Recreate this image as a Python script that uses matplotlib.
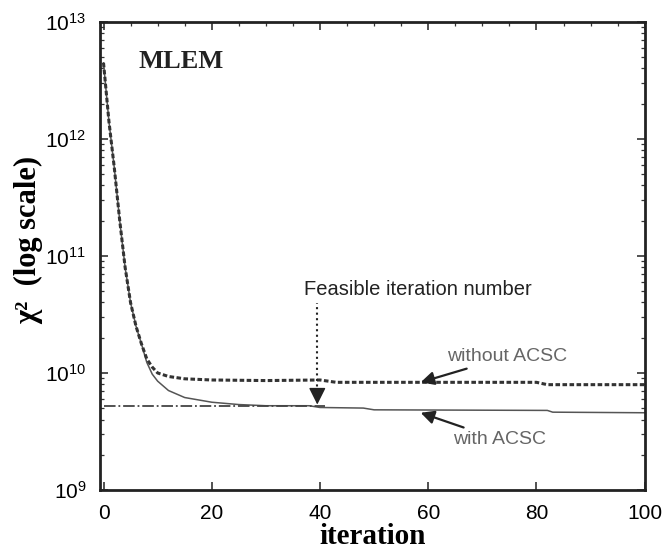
import numpy as np
import matplotlib
matplotlib.use("Agg")
import matplotlib.pyplot as plt
from matplotlib.ticker import MultipleLocator, LogLocator

plt.rcParams['font.family'] = ['Liberation Sans', 'DejaVu Sans']
plt.rcParams['mathtext.fontset'] = 'custom'
plt.rcParams['mathtext.rm'] = 'Liberation Sans'
plt.rcParams['mathtext.it'] = 'Liberation Sans:italic'
plt.rcParams['mathtext.bf'] = 'Liberation Sans:bold'

# log10(chi^2)
it_without = [0, 1, 2, 3, 4, 5, 6, 7, 8, 9, 10, 12, 15, 20, 30, 40, 43, 60, 80, 82, 100]
log_without = [12.65, 12.15, 11.75, 11.3, 10.9, 10.6, 10.4, 10.25, 10.12, 10.05, 10.0,
               9.97, 9.95, 9.94, 9.935, 9.94, 9.92, 9.92, 9.92, 9.9, 9.9]

it_with = [0, 1, 2, 3, 4, 5, 6, 7, 8, 9, 10, 12, 15, 20, 25, 30, 38, 40, 48, 50, 82, 83, 100]
log_with = [12.65, 12.15, 11.75, 11.3, 10.9, 10.6, 10.4, 10.25, 10.09, 9.99, 9.93, 9.85,
            9.79, 9.75, 9.73, 9.72, 9.72, 9.705, 9.70, 9.685, 9.68, 9.665, 9.66]

feasible_it = 39.5
feasible_level = 9.72

y_without = 10 ** np.array(log_without)
y_with = 10 ** np.array(log_with)

fig = plt.figure(figsize=(6.64, 5.6), dpi=100)
ax = fig.add_axes([0.151, 0.125, 0.82, 0.836])

ax.plot(it_with, y_with, color='#555555', lw=1.1)
ax.plot(it_without, y_without, color='#333333', lw=2.2, ls=(0, (1.5, 0.8)))
ax.plot([0, 41], [10 ** feasible_level] * 2, color='#444444', lw=1.3, ls='-.')

ax.set_yscale('log')
ax.set_xlim(-0.6, 100)
ax.set_ylim(1e9, 1e13)

ax.xaxis.set_major_locator(MultipleLocator(20))
ax.xaxis.set_minor_locator(MultipleLocator(5))
ax.yaxis.set_major_locator(LogLocator(base=10))
ax.yaxis.set_minor_locator(LogLocator(base=10, subs=np.arange(2, 10)))
ax.tick_params(which='both', direction='in', top=True, right=True, color='#333333')
ax.tick_params(which='major', length=6, width=1.2, labelsize=15, pad=10)
ax.tick_params(which='minor', length=3, width=0.9, bottom=False, top=True)
for s in ax.spines.values():
    s.set_linewidth(2)
    s.set_color('#222222')

ax.set_xlabel('iteration', family='Liberation Serif', fontweight='bold', fontsize=21, labelpad=0)
ax.set_ylabel('χ²  (log scale)', family='Liberation Serif', fontweight='bold', fontsize=22)
ax.yaxis.set_label_coords(-0.105, 0.534)

ax.text(6.5, 10 ** 12.66, 'MLEM', family='Liberation Serif', fontweight='bold', fontsize=19,
        va='center', ha='left', color='#222222')

# dotted stem + solid head for the feasible-iteration marker
ax.plot([feasible_it, feasible_it], [10 ** 9.84, 10 ** 10.6], color='#222222', lw=1.5, ls=':')
ax.annotate('', xy=(feasible_it, 10 ** 9.73), xytext=(feasible_it, 10 ** 9.86),
            arrowprops=dict(arrowstyle='-|>', lw=1.0, color='#222222',
                            mutation_scale=26, shrinkA=0, shrinkB=0))
ax.text(58.0, 10 ** 10.71, 'Feasible iteration number', ha='center', va='center',
        fontsize=14.5, color='#222222')

ax.annotate('without ACSC', xy=(58.6, 10 ** 9.92), xytext=(63.5, 10 ** 10.14),
            fontsize=14, color='#666666', va='center', ha='left',
            arrowprops=dict(arrowstyle='-|>', lw=1.6, color='#222222', mutation_scale=20,
                            shrinkA=2, shrinkB=0))
ax.annotate('with ACSC', xy=(58.6, 10 ** 9.66), xytext=(64.5, 10 ** 9.43),
            fontsize=14, color='#666666', va='center', ha='left',
            arrowprops=dict(arrowstyle='-|>', lw=1.6, color='#222222', mutation_scale=20,
                            shrinkA=2, shrinkB=0))

fig.savefig('out.png', dpi=100)
